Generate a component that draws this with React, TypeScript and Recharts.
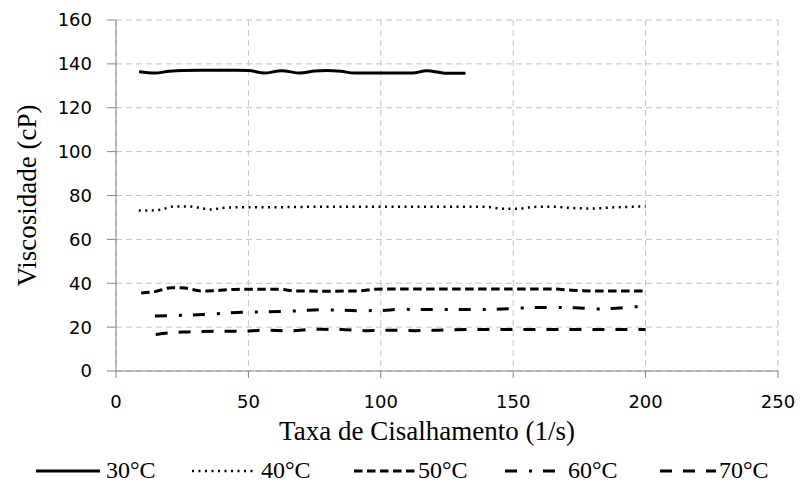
import React from 'react';
import { LineChart, Line, XAxis, YAxis, CartesianGrid, Legend } from 'recharts';

// ---- data ----
const xTicks = [0, 50, 100, 150, 200, 250];
const yTicks = [0, 20, 40, 60, 80, 100, 120, 140, 160];

const shear30 = [8.7, 14.7, 20, 25, 35, 45, 50, 56, 62.6, 69.5, 75, 79.5, 85, 90, 100, 112, 117.3, 125, 132];
const visc30 = [136.4, 135.8, 136.6, 137.0, 137.1, 137.1, 137.0, 135.8, 136.9, 135.8, 136.7, 137.0, 136.6, 135.8, 135.8, 135.8, 136.9, 135.7, 135.7];

const shear40 = [8.6, 13, 17, 22, 27, 31, 36, 40, 45, 55, 70, 90, 110, 130, 140, 146, 152, 158, 165, 172, 180, 188, 200];
const visc40 = [73.2, 73.2, 73.6, 75.0, 75.0, 74.5, 73.6, 74.3, 74.6, 74.6, 74.8, 74.9, 74.9, 74.9, 74.8, 74.0, 74.0, 74.8, 74.9, 74.3, 74.1, 74.6, 75.0];

const shear50 = [9.5, 15, 21, 26, 32, 37, 45, 55, 62, 68, 80, 92, 98, 110, 140, 165, 172, 180, 200];
const visc50 = [35.6, 36.3, 38.0, 37.8, 36.5, 36.6, 37.2, 37.3, 37.2, 36.5, 36.4, 36.5, 37.3, 37.4, 37.4, 37.4, 36.8, 36.5, 36.5];

const shear60 = [14.7, 20, 33, 48, 63, 78, 93, 100, 108, 122, 138, 150, 155, 167, 175, 182, 190, 197, 200];
const visc60 = [25.1, 25.2, 25.8, 26.8, 27.1, 27.9, 27.5, 27.6, 28.1, 28.0, 28.0, 28.5, 28.8, 29.0, 28.7, 28.3, 28.7, 29.3, 29.3];

const shear70 = [15, 20, 27, 37, 47, 56, 66, 75, 85, 94, 103, 113, 122, 132, 141, 151, 170, 200];
const visc70 = [16.6, 17.4, 17.8, 18.1, 18.1, 18.6, 18.3, 19.0, 18.9, 18.4, 18.6, 18.4, 18.6, 18.9, 18.9, 18.9, 18.9, 18.9];

const seriesNames = ['30°C', '40°C', '50°C', '60°C', '70°C'];

const build = (xs: number[], ys: number[]) => xs.map((x, i) => ({ x, y: ys[i] }));

// ---- styles ----
const seriesStyle = [
  { dash: undefined as string | undefined, width: 3 },
  { dash: '2 4.5', width: 2.5 },
  { dash: '8.5 4.5', width: 3 },
  { dash: '12 12 3 11', width: 3 },
  { dash: '12 11', width: 3 },
];

const series = [
  build(shear30, visc30),
  build(shear40, visc40),
  build(shear50, visc50),
  build(shear60, visc60),
  build(shear70, visc70),
].map((data, i) => ({ name: seriesNames[i], data, ...seriesStyle[i] }));

const legendLineX = [36, 192, 354, 505, 660];
const legendLineW = [64, 62, 61, 50, 56];
const legendTextX = [106, 261, 418, 568, 719];

const AXIS = '#868686';
const SERIF = '"Liberation Serif", "Times New Roman", serif';
const SANS = '"DejaVu Sans", Verdana, sans-serif';

const XTitle = (props: any) => {
  const vb = props.viewBox || {};
  return (
    <text
      x={vb.x + vb.width / 2 - 20}
      y={440}
      textAnchor="middle"
      fontFamily={SERIF}
      fontSize={27}
      fill="#000"
    >
      Taxa de Cisalhamento (1/s)
    </text>
  );
};

const YTitle = (props: any) => {
  const vb = props.viewBox || {};
  const cx = 36;
  const cy = vb.y + vb.height / 2;
  return (
    <text
      x={cx}
      y={cy}
      transform={`rotate(-90, ${cx}, ${cy})`}
      textAnchor="middle"
      fontFamily={SERIF}
      fontSize={27}
      fill="#000"
    >
      Viscosidade (cP)
    </text>
  );
};

const renderLegend = () => (
  <div style={{ position: 'relative', width: 800, height: 50 }}>
    {series.map((s, i) => (
      <React.Fragment key={s.name}>
        <svg
          style={{ position: 'absolute', left: legendLineX[i], top: 26 }}
          width={legendLineW[i]}
          height={16}
        >
          <line
            x1={0}
            y1={8}
            x2={legendLineW[i]}
            y2={8}
            stroke="#000"
            strokeWidth={s.width}
            strokeDasharray={s.dash}
          />
        </svg>
        <span
          style={{
            position: 'absolute',
            left: legendTextX[i],
            top: 21,
            fontFamily: SERIF,
            fontSize: 24,
            lineHeight: '24px',
            color: '#000',
            whiteSpace: 'nowrap',
          }}
        >
          {s.name}
        </span>
      </React.Fragment>
    ))}
  </div>
);

export default function App() {
  return (
    <div style={{ position: 'absolute', left: 0, top: 0, width: 800, height: 487, background: '#fff' }}>
      <LineChart width={800} height={487} margin={{ top: 20, right: 22, left: 0, bottom: 0 }}>
        <CartesianGrid stroke="#c3c3c3" strokeDasharray="6 4" />
        <XAxis
          type="number"
          dataKey="x"
          domain={[0, 250]}
          ticks={xTicks}
          allowDataOverflow
          height={66}
          stroke={AXIS}
          tickSize={7}
          tickMargin={17}
          tick={{ fill: '#000', fontFamily: SANS, fontSize: 18 }}
          label={<XTitle />}
        />
        <YAxis
          type="number"
          dataKey="y"
          domain={[0, 160]}
          ticks={yTicks}
          allowDataOverflow
          width={116}
          stroke={AXIS}
          tickSize={9}
          tickMargin={15}
          tick={{ fill: '#000', fontFamily: SANS, fontSize: 18 }}
          label={<YTitle />}
        />
        <Legend verticalAlign="bottom" height={50} content={renderLegend} />
        {series.map((s) => (
          <Line
            key={s.name}
            name={s.name}
            data={s.data}
            dataKey="y"
            type="monotone"
            stroke="#000"
            strokeWidth={s.width}
            strokeDasharray={s.dash}
            dot={false}
            activeDot={false}
            isAnimationActive={false}
          />
        ))}
      </LineChart>
    </div>
  );
}
